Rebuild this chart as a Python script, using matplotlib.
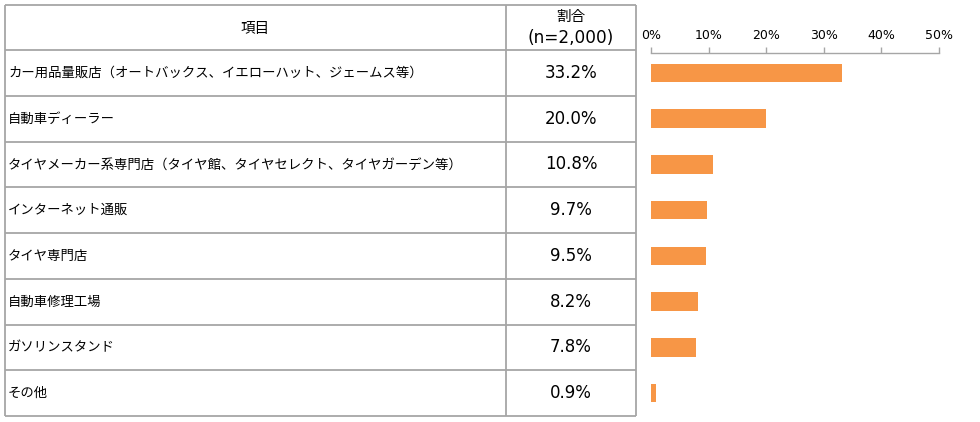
import matplotlib.pyplot as plt

plt.rcParams['font.family'] = ['Noto Sans CJK JP', 'DejaVu Sans']

items = [
    "カー用品量販店（オートバックス、イエローハット、ジェームス等）",
    "自動車ディーラー",
    "タイヤメーカー系専門店（タイヤ館、タイヤセレクト、タイヤガーデン等）",
    "インターネット通販",
    "タイヤ専門店",
    "自動車修理工場",
    "ガソリンスタンド",
    "その他",
]
shares = [33.2, 20.0, 10.8, 9.7, 9.5, 8.2, 7.8, 0.9]
ticks = [0, 10, 20, 30, 40, 50]

W, H = 980, 422
line_c = "#A6A6A6"
bar_c = "#F79646"
num_font = ["DejaVu Sans"]

fig = plt.figure(figsize=(W / 100, H / 100), dpi=100)

# table drawn in pixel coordinates
tab = fig.add_axes([0, 0, 1, 1])
tab.set_xlim(0, W)
tab.set_ylim(H, 0)
tab.axis("off")

x0, x1, x2 = 5, 506, 636
y_top, y_head, y_bot = 5, 50, 416
n = len(items)
row_h = (y_bot - y_head) / n

for y in [y_top, y_head] + [y_head + row_h * (i + 1) for i in range(n)]:
    tab.plot([x0, x2], [y, y], color=line_c, lw=1.3, solid_capstyle="butt")
for x in [x0, x1, x2]:
    tab.plot([x, x], [y_top, y_bot], color=line_c, lw=1.3, solid_capstyle="butt")

tab.text((x0 + x1) / 2, (y_top + y_head) / 2 + 1, "項目", ha="center", va="center", fontsize=10.5)
tab.text((x1 + x2) / 2, 17, "割合", ha="center", va="center", fontsize=10.5)
tab.text((x1 + x2) / 2, 38, "(n=2,000)", ha="center", va="center", fontsize=12.2, family=num_font)

for i, (name, v) in enumerate(zip(items, shares)):
    yc = y_head + row_h * (i + 0.5)
    tab.text(x0 + 3, yc, name, ha="left", va="center", fontsize=9.6)
    tab.text((x1 + x2) / 2, yc, f"{v:.1f}%", ha="center", va="center", fontsize=12, family=num_font)

# bar chart
bl, br, bt = 651, 938.7, 53
ax = fig.add_axes([bl / W, (H - y_bot) / H, (br - bl) / W, (y_bot - bt) / H])
ax.barh([i + 0.5 for i in range(n)], shares, height=0.4, color=bar_c)
ax.set_xlim(0, 50)
ax.set_ylim(n, (bt - y_head) / row_h)
ax.set_xticks(ticks)
ax.set_xticklabels([f"{t}%" for t in ticks], fontsize=9, family=num_font)
ax.xaxis.tick_top()
ax.tick_params(axis="x", direction="out", length=4, color=line_c, width=1, pad=4)
ax.set_yticks([])
for s in ["bottom", "left", "right"]:
    ax.spines[s].set_visible(False)
ax.spines["top"].set_color(line_c)
ax.spines["top"].set_linewidth(1)
ax.patch.set_alpha(0)

fig.savefig("out.png", dpi=100)
